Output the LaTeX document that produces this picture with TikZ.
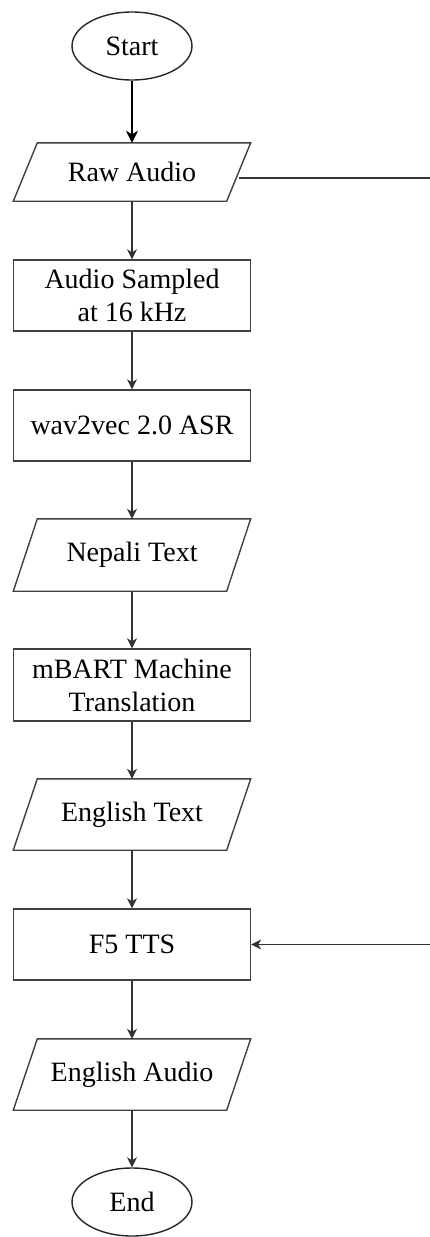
\documentclass[tikz,border=0pt]{standalone}
\usepackage{fontspec}
\setmainfont{Liberation Serif}
\usetikzlibrary{shapes.geometric,arrows.meta}
\tikzset{
  base/.style={inner sep=0pt, align=center, font=\fontsize{28}{33}\selectfont, text=black},
  term/.style={base, draw=black!85, line width=1.4pt, ellipse, minimum width=120pt, minimum height=68pt},
  proc/.style={base, draw=black!75, line width=1.4pt, rectangle, minimum width=237pt, minimum height=71pt},
  io/.style={base, rectangle, minimum width=237pt, minimum height=71pt},
  ioline/.style={draw=black!75, line width=1.4pt, line join=miter},
  conn/.style={draw=black!80, line width=1.3pt},
  arr/.style={conn, -{Stealth[length=10pt,width=10pt,inset=3pt]}},
  arrbold/.style={draw=black, line width=2pt, -{Stealth[length=12pt,width=12pt,inset=3.5pt]}},
}
\begin{document}
\begin{tikzpicture}[x=1pt,y=-1pt]
\useasboundingbox (0,0) rectangle (430,1237);
\node[term] (start) at (132,46) {Start};
\node[io, minimum height=58pt] (raw) at (132,172) {Raw Audio};
\node[proc] (samp) at (132,295.5) {Audio Sampled\\at 16 kHz};
\node[proc] (w2v) at (132,425.5) {wav2vec 2.0 ASR};
\node[io, minimum height=72pt] (nep) at (132,555) {Nepali Text};
\node[proc, minimum height=72pt] (mbart) at (132,685) {mBART Machine\\Translation};
\node[io] (engt) at (132,814.5) {English Text};
\node[proc] (tts) at (132,944.5) {F5 TTS};
\node[io] (enga) at (132,1074.5) {English Audio};
\node[term] (end) at (132,1202) {End};
% parallelogram outlines
\foreach \n in {raw,nep,engt,enga}{
  \draw[ioline] ([xshift=24pt]\n.north west) -- (\n.north east) -- ([xshift=-24pt]\n.south east) -- (\n.south west) -- cycle;
}
% connectors
\draw[arrbold] (start.south) -- (raw.north);
\draw[arr] (raw.south) -- (samp.north);
\draw[arr] (samp.south) -- (w2v.north);
\draw[arr] (w2v.south) -- (nep.north);
\draw[arr] (nep.south) -- (mbart.north);
\draw[arr] (mbart.south) -- (engt.north);
\draw[arr] (engt.south) -- (tts.north);
\draw[arr] (tts.south) -- (enga.north);
\draw[arr] (enga.south) -- (end.north);
\coordinate (rawout) at (239,178);
\coordinate (edgeA) at (430,178);
\coordinate (edgeB) at (430,944.5);
\draw[conn] (rawout) -- (edgeA);
\draw[arr] (edgeB) -- (tts.east);
\end{tikzpicture}
\end{document}
